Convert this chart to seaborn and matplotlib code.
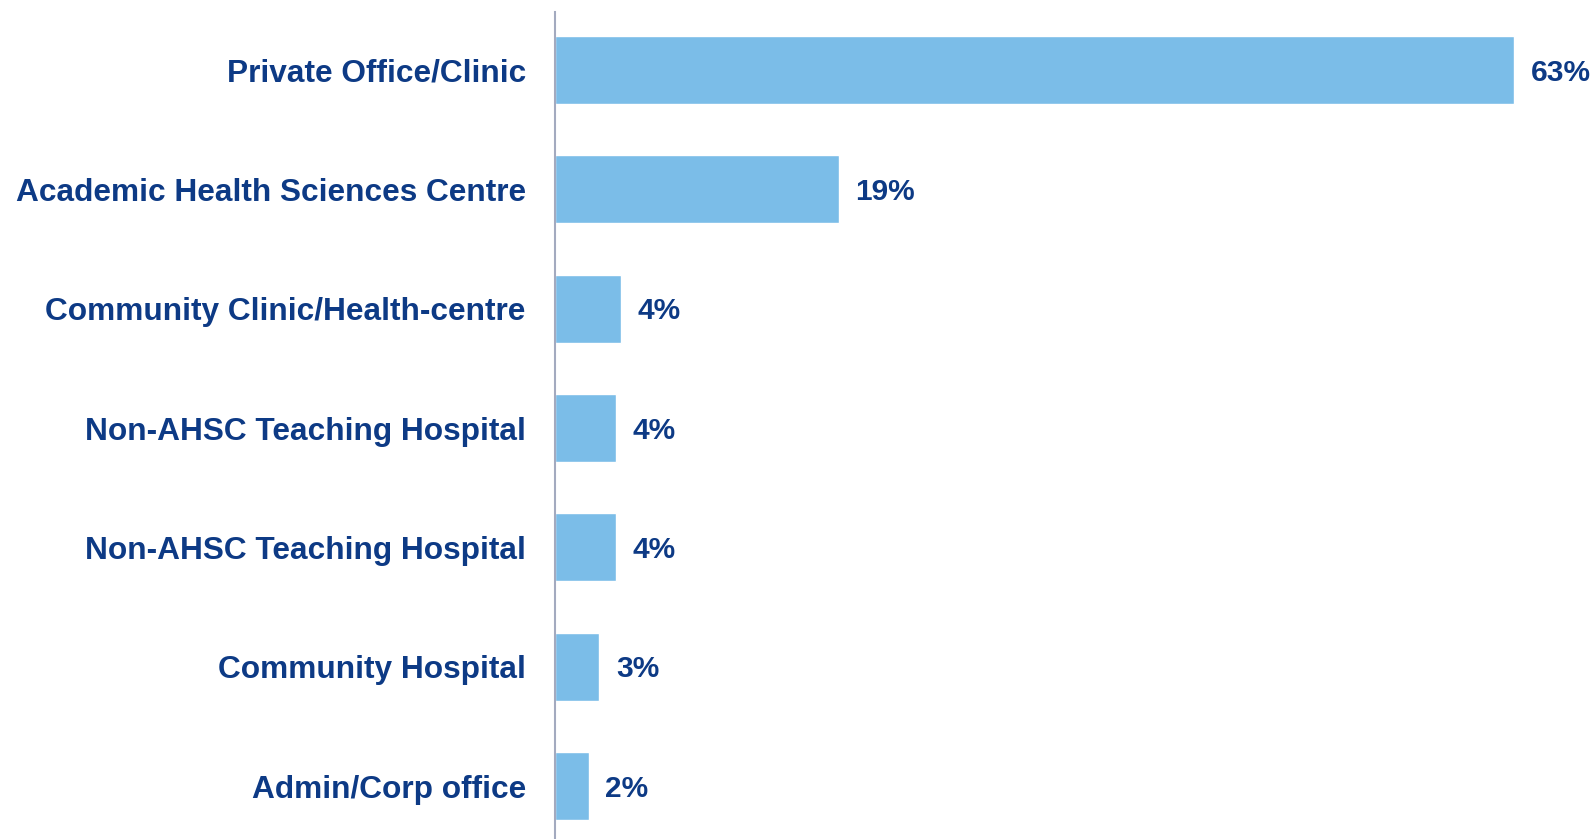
import matplotlib
matplotlib.use("Agg")
import matplotlib.pyplot as plt
import seaborn as sns
import pandas as pd

# workplace settings, share of respondents (%)
settings = ["Private Office/Clinic",
            "Academic Health Sciences Centre",
            "Community Clinic/Health-centre",
            "Non-AHSC Teaching Hospital",
            "Non-AHSC Teaching Hospital",
            "Community Hospital",
            "Admin/Corp office"]
shares = [62.9, 18.6, 4.3, 4.0, 4.0, 2.9, 2.2]
share_labels = ["63%", "19%", "4%", "4%", "4%", "3%", "2%"]

bar_color = "#7BBDE8"
text_color = "#0D3A85"

sns.set_theme(style="white")
plt.rcParams["font.family"] = ["Liberation Sans", "DejaVu Sans"]

df = pd.DataFrame({"pos": [str(i) for i in range(len(settings))],
                   "share": shares})

fig = plt.figure(figsize=(15.92, 8.39), dpi=100)
ax = fig.add_axes([555 / 1592, 0, 1 - 555 / 1592, 827 / 839])

sns.barplot(data=df, x="share", y="pos", orient="h", color=bar_color,
            saturation=1, width=0.57, ax=ax)

# value labels just right of each bar
for i, (v, lab) in enumerate(zip(shares, share_labels)):
    ax.annotate(lab, xy=(v, i), xytext=(12, -2), textcoords="offset points",
                ha="left", va="center", fontsize=21.5, fontweight="bold",
                color=text_color)

ax.set_yticks(range(len(settings)))
ax.set_yticklabels(settings, fontsize=22.8, fontweight="bold", color=text_color)
ax.tick_params(axis="y", length=0, pad=21)
ax.set_xticks([])
ax.set_xlim(0, 1037 / 15.25)
ax.set_ylim(6.444, -0.486)
ax.set_xlabel("")
ax.set_ylabel("")

for s in ["top", "right", "bottom"]:
    ax.spines[s].set_visible(False)
ax.spines["left"].set_color("#A3AABF")
ax.spines["left"].set_linewidth(1.5)

fig.savefig("out.png", dpi=100)
